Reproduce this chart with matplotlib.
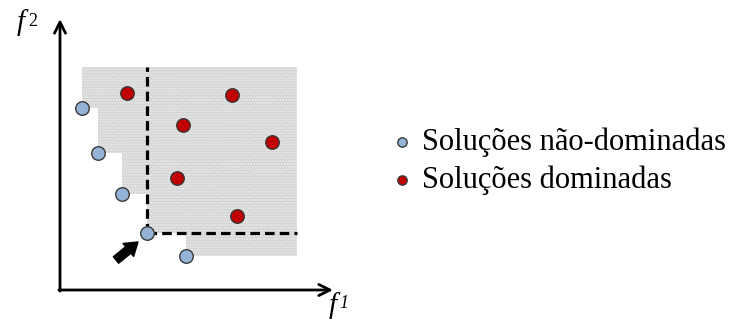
import matplotlib
matplotlib.use("Agg")
import matplotlib.pyplot as plt
import numpy as np

# Data (arbitrary objective units)
nd_f1 = [0.81, 1.40, 2.28, 3.20, 4.63]
nd_f2 = [6.74, 5.07, 3.56, 2.11, 1.26]
d_f1 = [2.46, 6.32, 4.52, 7.79, 4.30, 6.51]
d_f2 = [7.30, 7.22, 6.11, 5.48, 4.15, 2.74]
region_max = (8.71, 8.26)
highlight = 3  # index of highlighted non-dominated solution
legend_labels = ["Soluções não-dominadas", "Soluções dominadas"]

BLUE = "#95B3D7"
RED = "#C00000"
EDGE = "#3a3a3a"

W, H, DPI = 735, 324, 100
fig = plt.figure(figsize=(W / DPI, H / DPI), dpi=DPI)
ax = fig.add_axes([0, 0, 1, 1])
sx, sy = 27.2, 27.0
ox, oy = 60, 290
ax.set_xlim((0 - ox) / sx, (W - ox) / sx)
ax.set_ylim((oy - H) / sy, (oy - 0) / sy)
ax.axis("off")

# Dominated region (union of rectangles)
xmax, ymax = region_max
order = np.argsort(nd_f1)
xs = [nd_f1[i] for i in order]
ys = [nd_f2[i] for i in order]
px, py = [xs[0], xs[0]], [ymax, ys[0]]
for i in range(1, len(xs)):
    px += [xs[i], xs[i]]
    py += [py[-1], ys[i]]
px += [xmax, xmax]
py += [ys[-1], ymax]
ax.fill(px, py, facecolor="#d4d4d4", edgecolor="#ededed", hatch="......", lw=0, zorder=1)

# Dashed lines from highlighted point
hx, hy = nd_f1[highlight], nd_f2[highlight]
ax.plot([hx, hx], [hy, ymax], ls=(0, (3.0, 1.6)), color="black", lw=2.3, zorder=2)
ax.plot([hx, xmax], [hy, hy], ls=(0, (3.0, 1.6)), color="black", lw=2.3, zorder=2)

# Points
ax.scatter(nd_f1, nd_f2, s=95, facecolor=BLUE, edgecolor=EDGE, lw=1, zorder=4)
ax.scatter(d_f1, d_f2, s=95, facecolor=RED, edgecolor=EDGE, lw=1, zorder=4)

# Axes arrows
ax.annotate("", xy=(0, (oy - 19) / sy), xytext=(0, -0.04),
            arrowprops=dict(arrowstyle="->,head_width=0.4,head_length=0.8", lw=2, color="black",
                            shrinkA=0, shrinkB=0), zorder=3)
ax.annotate("", xy=((333 - ox) / sx, 0), xytext=(-0.04, 0),
            arrowprops=dict(arrowstyle="->,head_width=0.4,head_length=0.8", lw=2, color="black",
                            shrinkA=0, shrinkB=0), zorder=3)

# Pointer arrow
ax.annotate("", xy=((138 - ox) / sx, (oy - 242) / sy), xytext=((116 - ox) / sx, (oy - 260) / sy),
            arrowprops=dict(arrowstyle="simple,head_width=1.2,head_length=0.9,tail_width=0.6",
                            color="black", shrinkA=0, shrinkB=0), zorder=3)

# Axis labels
serif = "Liberation Serif"
ax.text((21 - ox) / sx, (oy - 23) / sy, "f", family=serif, style="italic", fontsize=21,
        ha="center", va="center")
ax.text((33 - ox) / sx, (oy - 21) / sy, "2", family=serif, fontsize=13, ha="center", va="center")
ax.text((333 - ox) / sx, (oy - 306) / sy, "f", family=serif, style="italic", fontsize=21,
        ha="center", va="center")
ax.text((344 - ox) / sx, (oy - 304) / sy, "1", family=serif, style="italic", fontsize=13,
        ha="center", va="center")

# Legend
for j, (lab, col) in enumerate(zip(legend_labels, [BLUE, RED])):
    ly = (oy - (142 + 38 * j)) / sy
    ax.scatter([(402 - ox) / sx], [ly], s=45, facecolor=col, edgecolor=EDGE, lw=1, zorder=4)
    ax.text((422 - ox) / sx, ly, lab, family=serif, fontsize=22, ha="left", va="center")

fig.savefig("out.png", dpi=DPI)
